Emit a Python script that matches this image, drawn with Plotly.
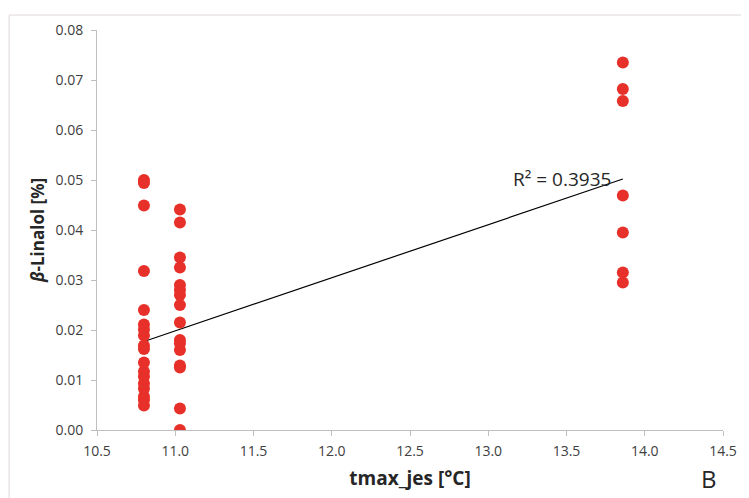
import plotly.graph_objects as go

# Data
x_a = 10.80
y_a = [0.0500, 0.0494, 0.0449, 0.0318, 0.0240, 0.0211, 0.0201, 0.0189, 0.0169, 0.0162,
       0.0135, 0.0117, 0.0107, 0.0093, 0.0083, 0.0067, 0.0060, 0.0049]
x_b = 11.03
y_b = [0.0441, 0.0415, 0.0345, 0.0325, 0.0290, 0.0280, 0.0270, 0.0250, 0.0215, 0.0180,
       0.0173, 0.0160, 0.0129, 0.0125, 0.0043, 0.0000]
x_c = 13.86
y_c = [0.0735, 0.0682, 0.0658, 0.0469, 0.0395, 0.0315, 0.0295]

# Linear trendline as drawn in the reference
trend_x = [10.80, 13.86]
trend_y = [0.0177, 0.0502]
r2_label = "R² = 0.3935"

x_ticks = [10.5, 11.0, 11.5, 12.0, 12.5, 13.0, 13.5, 14.0, 14.5]
y_ticks = [0.00, 0.01, 0.02, 0.03, 0.04, 0.05, 0.06, 0.07, 0.08]

xs = [x_a] * len(y_a) + [x_b] * len(y_b) + [x_c] * len(y_c)
ys = y_a + y_b + y_c

font = "Open Sans, Liberation Sans, sans-serif"

fig = go.Figure()
fig.add_trace(go.Scatter(x=trend_x, y=trend_y, mode="lines",
                         line=dict(color="black", width=1.2), showlegend=False,
                         hoverinfo="skip"))
fig.add_trace(go.Scatter(x=xs, y=ys, mode="markers",
                         marker=dict(color="#e8302a", size=12),
                         showlegend=False))

fig.update_layout(
    width=741, height=490,
    margin=dict(l=89, r=18, t=22, b=68),
    paper_bgcolor="white", plot_bgcolor="white",
    font=dict(family=font, color="#404040", size=14),
    xaxis=dict(range=[10.5, 14.5], tickvals=x_ticks,
               ticktext=[f"{v:.1f}" for v in x_ticks],
               showgrid=False, zeroline=False, showline=True,
               linecolor="#bfbfbf", linewidth=1,
               ticks="outside", ticklen=5, tickcolor="#bfbfbf",
               ticklabelstandoff=3,
               tickfont=dict(size=14, color="#404040"),
               title=dict(text="<b>tmax_jes [°C]</b>", font=dict(size=19, color="#262626"),
                          standoff=12)),
    yaxis=dict(range=[0, 0.08], tickvals=y_ticks,
               ticktext=[f"{v:.2f}" for v in y_ticks],
               showgrid=False, zeroline=False, showline=True,
               linecolor="#bfbfbf", linewidth=1,
               ticks="outside", ticklen=5, tickcolor="#bfbfbf",
               ticklabelstandoff=5,
               tickfont=dict(size=14, color="#404040"),
               title=dict(text="<b><i>β</i>-Linalol [%]</b>", font=dict(size=17, color="#262626"),
                          standoff=6)),
    annotations=[
        dict(x=13.47, y=0.0502, xref="x", yref="y", text=r2_label, showarrow=False,
             font=dict(size=19, color="#262626"), xanchor="center", yanchor="middle"),
        dict(x=(709 - 89) / 634, y=1 - (489 - 22) / 400, xref="paper", yref="paper",
             text="B", showarrow=False,
             font=dict(size=24, color="#262626"), xanchor="center", yanchor="bottom"),
    ],
    shapes=[
        dict(type="rect", xref="paper", yref="paper",
             x0=-89 / 634, x1=1.2, y0=-0.4, y1=1 + 15 / 400,
             line=dict(color="#e0d8d8", width=1), layer="below"),
    ],
)

fig.write_html("out.html")
